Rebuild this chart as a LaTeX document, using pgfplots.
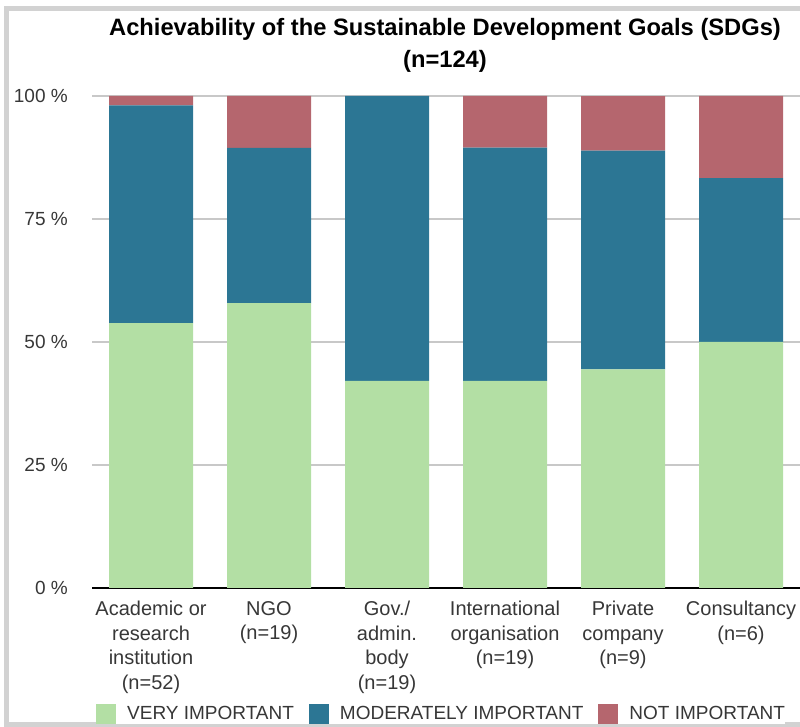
\documentclass[border=0pt]{standalone}
\usepackage{pgfplots}
\pgfplotsset{compat=1.18}
\usepackage{pgfplotstable}
\usepackage{fontspec}
\setmainfont{Liberation Sans}
\definecolor{cgreen}{RGB}{179,223,164}
\definecolor{cblue}{RGB}{44,118,148}
\definecolor{cred}{RGB}{181,102,110}
\definecolor{cframe}{RGB}{210,210,210}
\definecolor{cgrid}{RGB}{200,200,200}
\definecolor{ctext}{RGB}{55,55,55}
\pgfplotstableread{
x very mod not
0 53.85 44.23 1.92
1 57.89 31.58 10.53
2 42.11 57.89 0
3 42.11 47.37 10.53
4 44.44 44.44 11.11
5 50.00 33.33 16.67
}\datatable
\begin{document}
\begin{tikzpicture}
\draw[line width=5pt, cframe] (6.5pt,2pt) rectangle (830pt,718.5pt);
\begin{axis}[
  at={(92pt,139pt)}, anchor=south west,
  scale only axis, width=708pt, height=492pt,
  ybar stacked, bar width=84pt,
  xmin=-0.5, xmax=5.5, ymin=0, ymax=100,
  xtick={0,1,2,3,4,5},
  xticklabels={{Academic or\\research\\institution\\(n=52)},{NGO\\(n=19)},{Gov./\\admin.\\body\\(n=19)},{International\\organisation\\(n=19)},{Private\\company\\(n=9)},{Consultancy\\(n=6)}},
  ytick={0,25,50,75,100},
  yticklabels={0 \%,25 \%,50 \%,75 \%,100 \%},
  major tick length=0pt,
  axis x line*=bottom, axis y line*=left,
  x axis line style={black, line width=1.8pt},
  y axis line style={draw=none},
  ymajorgrids, grid style={cgrid, line width=1.5pt},
  xticklabel style={font=\fontsize{20}{24.5}\selectfont, text=ctext, align=center, anchor=north, inner sep=0pt, yshift=-13pt},
  yticklabel style={font=\fontsize{19}{22}\selectfont, text=ctext, anchor=east, inner sep=0pt, xshift=-24pt},
  legend columns=3,
  legend image code/.code={\fill[#1] (0pt,-10pt) rectangle (20pt,10pt);},
  legend style={at={(0.0056,-0.256)}, anchor=west, draw=none, inner sep=0pt, font=\fontsize{19}{22}\selectfont, text=ctext,
    nodes={inner sep=0pt},
    /tikz/every odd column/.append style={column sep=11pt},
    /tikz/every even column/.append style={column sep=15pt}},
]
\addplot[fill=cgreen, draw=none] table[x=x, y=very] {\datatable};
\addplot[fill=cblue, draw=none] table[x=x, y=mod] {\datatable};
\addplot[fill=cred, draw=none] table[x=x, y=not] {\datatable};
\legend{VERY IMPORTANT, MODERATELY IMPORTANT, NOT IMPORTANT}
\end{axis}
\node[font=\bfseries\fontsize{23.7}{32}\selectfont, align=center] at (445pt,682pt) {Achievability of the Sustainable Development Goals (SDGs)\\(n=124)};
\pgfresetboundingbox
\path[use as bounding box] (0pt,0pt) rectangle (800pt,727pt);
\end{tikzpicture}
\end{document}
